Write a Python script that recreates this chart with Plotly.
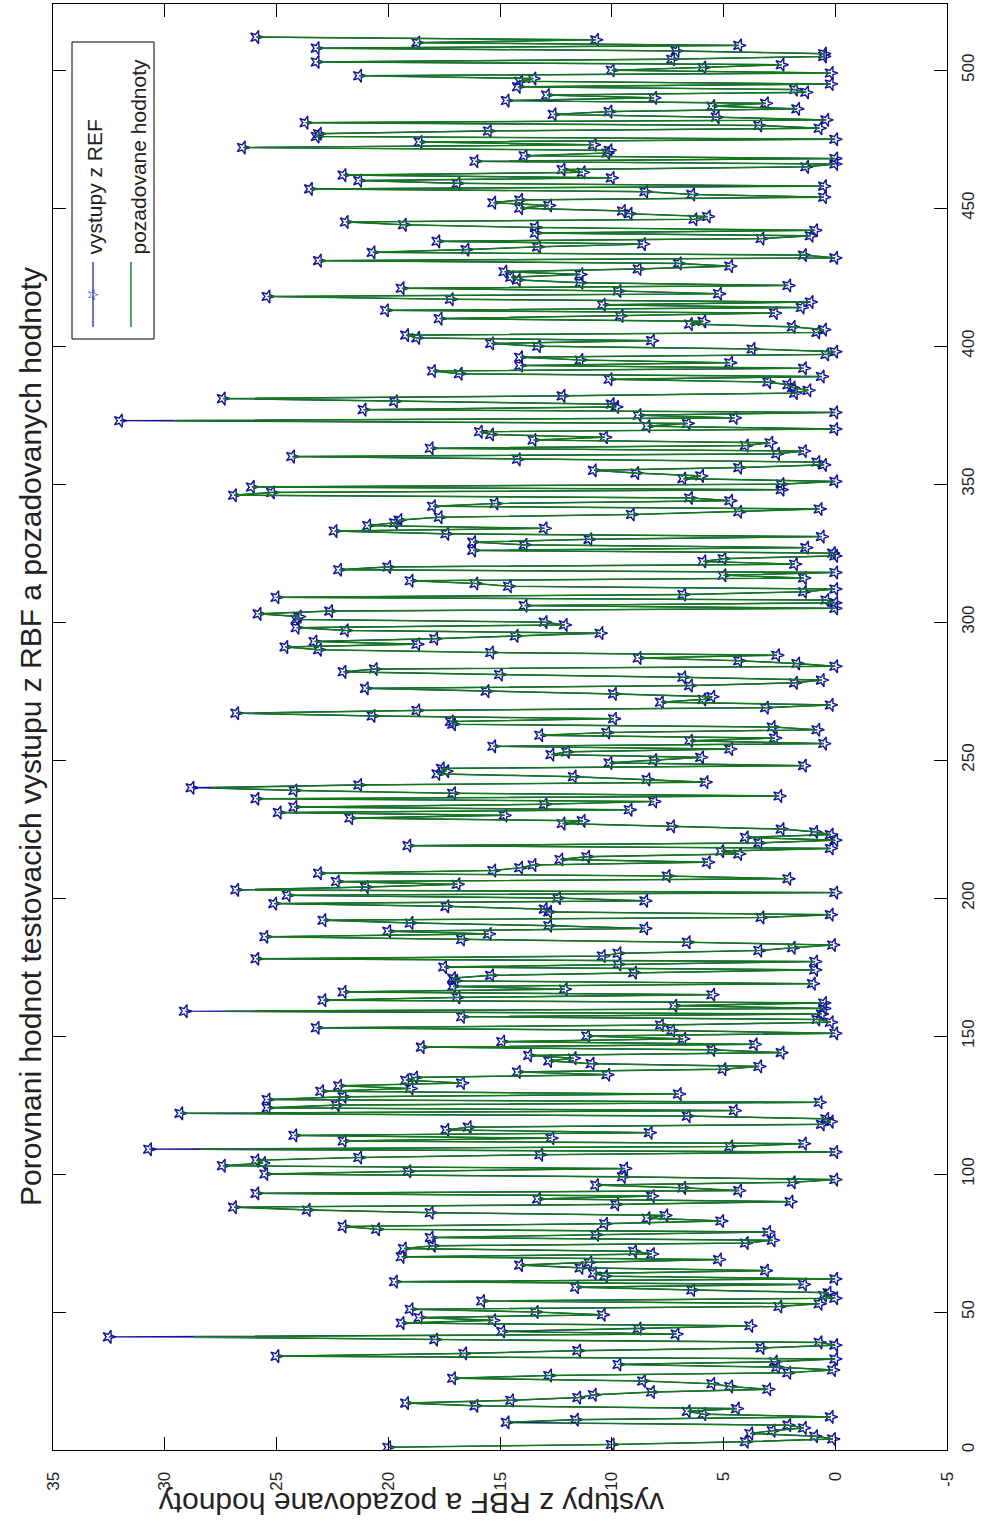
import plotly.graph_objects as go

# ---------------- data ----------------
# outputs of the RBF network (blue, with star markers), test samples 1..N
rbf_outputs = [
    # samples 1-45
    20.0, 10.0, 4.0, 0.1, 0.9, 3.8, 2.8, 1.4, 2.1, 14.7, 11.6, 0.2, 5.9, 6.6, 4.4, 16.1, 19.2, 14.5, 11.5, 10.8,
    8.2, 3.0, 4.7, 5.5, 8.6, 17.1, 12.8, 2.1, 0.1, 2.6, 9.7, 2.7, 0.0, 25.0, 16.6, 11.5, 3.3, 0.0, 0.7, 17.9,
    32.5, 7.1, 14.9, 8.8, 3.8,
    # 46-88
    19.4, 15.3, 18.6, 10.4, 13.4, 19.0, 2.5, 0.7, 15.8, 0.0, 0.5, 0.3, 6.4, 11.6, 1.4, 19.7, 0.0, 10.3, 10.8, 3.1,
    11.4, 14.1, 11.0, 5.2, 19.4, 8.2, 9.0, 19.3, 18.0, 4.0, 2.8, 18.1, 10.7, 3.0, 20.5, 22.0, 10.3, 5.1, 8.4, 7.6,
    18.1, 23.6, 26.9,
    # 89-132
    9.8, 2.0, 13.3, 8.2, 25.9, 4.3, 6.8, 10.7, 1.9, 0.0, 9.5, 25.5, 19.1, 9.4, 27.4, 25.6, 25.9, 21.3, 13.2, 0.0,
    30.7, 4.7, 1.4, 22.0, 12.7, 24.2, 8.3, 17.4, 16.4, 0.6, 0.2, 0.4, 6.6, 29.3, 4.5, 25.4, 22.3, 0.7, 25.4, 22.0,
    7.0, 23.0, 19.0, 22.2,
    # 133-175
    16.7, 19.2, 18.8, 10.2, 14.2, 5.0, 3.4, 10.9, 12.8, 11.7, 13.7, 2.4, 5.5, 18.5, 3.6, 14.9, 6.8, 11.1, 0.0, 7.3,
    23.2, 7.8, 0.2, 0.8, 16.7, 0.6, 29.1, 0.5, 7.2, 0.5, 22.9, 16.9, 5.5, 22.0, 12.1, 17.1, 1.0, 17.0, 17.1, 15.4,
    9.0, 0.9, 17.5,
    # 176-219
    9.7, 0.9, 25.9, 10.4, 9.7, 3.4, 1.9, 0.1, 6.6, 16.7, 25.5, 15.5, 20.0, 8.5, 12.8, 19.0, 22.9, 3.3, 0.2, 12.8,
    13.0, 17.4, 25.1, 8.5, 12.4, 24.5, 0.0, 26.8, 21.0, 16.9, 22.3, 2.1, 7.5, 23.1, 15.3, 14.1, 13.5, 5.7, 12.3, 11.1,
    4.3, 5.1, 0.2, 19.1,
    # 220-263
    3.4, 0.0, 4.0, 0.2, 0.9, 2.4, 7.3, 12.2, 11.3, 21.7, 14.8, 24.9, 9.2, 24.2, 13.0, 8.1, 25.9, 2.5, 17.1, 24.2,
    28.8, 21.3, 5.8, 8.4, 11.7, 17.8, 17.4, 17.6, 1.4, 10.1, 8.1, 6.0, 12.7, 12.0, 4.7, 15.3, 0.5, 6.5, 2.7, 13.2,
    10.2, 0.8, 2.8, 17.1,
    # 264-305
    17.2, 9.9, 20.7, 26.8, 18.7, 3.1, 0.2, 7.8, 5.9, 5.5, 9.9, 15.6, 21.0, 6.5, 1.8, 0.6, 6.8, 15.0, 22.0, 20.6,
    0.0, 1.7, 4.3, 8.8, 2.6, 15.4, 23.1, 24.6, 18.7, 23.3, 17.9, 14.3, 10.5, 21.9, 24.1, 12.1, 13.0, 24.1, 24.0, 25.8,
    22.6, 0.0,
    # 306-348
    13.9, 0.0, 0.4, 25.0, 6.8, 1.4, 0.0, 14.6, 16.1, 19.0, 1.4, 5.0, 0.0, 22.2, 20.0, 1.8, 5.9, 5.0, 0.0, 0.1,
    16.2, 1.3, 13.9, 16.2, 11.0, 0.6, 17.4, 22.4, 13.0, 20.9, 19.7, 19.5, 17.7, 9.1, 4.3, 0.7, 18.0, 15.2, 4.7, 6.5,
    26.9, 25.2, 2.4,
    # 349-393
    26.1, 2.4, 0.0, 6.8, 6.0, 8.9, 10.8, 4.3, 0.5, 0.8, 14.2, 24.3, 2.6, 1.4, 18.1, 4.0, 2.9, 13.5, 10.3, 15.4,
    15.9, 0.0, 8.4, 6.6, 32.0, 4.5, 8.8, 0.0, 21.1, 9.8, 10.0, 19.7, 27.4, 12.2, 1.8, 1.2, 1.9, 2.1, 3.0, 10.1,
    0.6, 16.8, 18.0, 1.4, 14.1,
    # 394-437
    4.7, 11.4, 14.1, 0.4, 0.0, 3.7, 13.3, 15.4, 8.2, 18.7, 19.2, 0.8, 0.5, 1.9, 6.5, 5.9, 17.7, 9.6, 2.7, 20.1,
    1.5, 10.4, 1.1, 17.2, 25.4, 5.2, 9.7, 19.4, 2.1, 11.4, 14.2, 14.5, 11.4, 14.8, 8.8, 4.7, 7.0, 23.1, 0.0, 1.4,
    20.7, 16.5, 13.3, 8.6,
    # 438-480
    17.8, 3.3, 1.1, 13.4, 0.9, 13.4, 19.3, 21.9, 6.3, 5.7, 9.2, 9.5, 14.1, 12.8, 15.3, 14.1, 0.5, 6.4, 8.5, 23.5,
    0.5, 16.9, 21.3, 10.0, 22.0, 11.3, 12.2, 1.3, 0.0, 16.1, 0.0, 13.9, 10.2, 10.1, 26.5, 10.8, 18.6, 0.0, 23.2, 23.1,
    15.5, 0.7, 3.4,
    # 481-512
    23.7, 0.4, 5.3, 12.6, 10.1, 1.7, 5.5, 3.1, 14.7, 8.1, 12.9, 1.3, 1.8, 14.2, 0.2, 14.1, 13.5, 21.3, 0.2, 10.0,
    5.9, 2.4, 23.2, 7.3, 0.5, 0.5, 7.1, 23.2, 4.3, 18.7, 10.7, 25.9,
]

# desired (target) values: identical to the outputs except at these samples
desired_differences = {41: 28.7, 109: 28.4, 159: 27.3, 240: 27.9, 373: 29.6}

sample_no = list(range(1, len(rbf_outputs) + 1))
desired_values = [desired_differences.get(n, v) for n, v in zip(sample_no, rbf_outputs)]

value_ticks = [-5, 0, 5, 10, 15, 20, 25, 30, 35]
sample_ticks = [0, 50, 100, 150, 200, 250, 300, 350, 400, 450, 500]

title_text = "Porovnani hodnot testovacich vystupu z RBF a pozadovanych hodnoty"
value_label = "vystupy z RBF a pozadovane hodnoty"
legend_names = ["vystupy z REF", "pozadovane hodnoty"]

# ---------------- styling / layout ----------------
W, H = 983, 1521
L, R, T, B = 53, 947, 4, 1450     # plot box in pixels
BLUE = "#10139a"
GREEN = "#117a14"
FONT = "Liberation Sans"


def px(xp):
    return (xp - L) / (R - L)


def py(yp):
    return (B - yp) / (B - T)


fig = go.Figure()
fig.add_trace(go.Scatter(
    x=rbf_outputs, y=sample_no, mode="lines+markers", name=legend_names[0],
    line=dict(color=BLUE, width=1.2),
    marker=dict(symbol="star-open", size=10, angle=90, color=BLUE,
                line=dict(color=BLUE, width=1.4)),
    showlegend=False))
fig.add_trace(go.Scatter(
    x=desired_values, y=sample_no, mode="lines", name=legend_names[1],
    line=dict(color=GREEN, width=1.5), showlegend=False))

axis_common = dict(showgrid=False, zeroline=False, showline=True, linecolor="black",
                   linewidth=1, mirror="ticks", ticks="inside", ticklen=13,
                   tickcolor="black", tickwidth=1.2,
                   tickfont=dict(family=FONT, size=17, color="#222"))

fig.update_xaxes(range=[35, -5], tickvals=value_ticks,
                 ticktext=[str(v) for v in value_ticks], tickangle=-90,
                 ticklabelstandoff=14, **axis_common)
fig.update_yaxes(range=[0, 524], tickvals=sample_ticks,
                 ticktext=[str(v) for v in sample_ticks], side="right", tickangle=-90,
                 ticklabelstandoff=6, **axis_common)

shapes = []
annotations = []

# title (rotated, on the left)
annotations.append(dict(xref="paper", yref="paper", x=px(30), y=py(737), text=title_text,
                        textangle=-90, showarrow=False, xanchor="center", yanchor="middle",
                        font=dict(family=FONT, size=30, color="#222")))
# value axis label (upside down, at the bottom)
annotations.append(dict(xref="paper", yref="paper", x=px(412), y=py(1504), text=value_label,
                        textangle=180, showarrow=False, xanchor="center", yanchor="middle",
                        font=dict(family=FONT, size=30, color="#222")))

# legend box
shapes.append(dict(type="rect", xref="paper", yref="paper", x0=px(72), x1=px(154),
                   y0=py(339), y1=py(42), line=dict(color="black", width=1),
                   fillcolor="white", layer="above"))
shapes.append(dict(type="line", xref="paper", yref="paper", x0=px(93), x1=px(93),
                   y0=py(327), y1=py(262), line=dict(color=BLUE, width=1.2), layer="above"))
shapes.append(dict(type="line", xref="paper", yref="paper", x0=px(131), x1=px(131),
                   y0=py(327), y1=py(262), line=dict(color=GREEN, width=1.4), layer="above"))
annotations.append(dict(xref="paper", yref="paper", x=px(93), y=py(294), text="☆",
                        textangle=90, showarrow=False, xanchor="center", yanchor="middle",
                        font=dict(family="DejaVu Sans", size=15, color=BLUE)))
annotations.append(dict(xref="paper", yref="paper", x=px(94), y=py(257), text=legend_names[0],
                        textangle=-90, showarrow=False, xanchor="center", yanchor="bottom",
                        font=dict(family=FONT, size=21, color="#222")))
annotations.append(dict(xref="paper", yref="paper", x=px(138), y=py(257), text=legend_names[1],
                        textangle=-90, showarrow=False, xanchor="center", yanchor="bottom",
                        font=dict(family=FONT, size=21, color="#222")))

fig.update_layout(width=W, height=H, paper_bgcolor="white", plot_bgcolor="white",
                  margin=dict(l=L, r=W - R, t=T, b=H - B, pad=0),
                  shapes=shapes, annotations=annotations, showlegend=False)

# remove the default 8px page margin so the figure sits at the window's corner
fig.write_html("out.html", config={"displayModeBar": False},
               post_script="document.body.style.margin='0';")
